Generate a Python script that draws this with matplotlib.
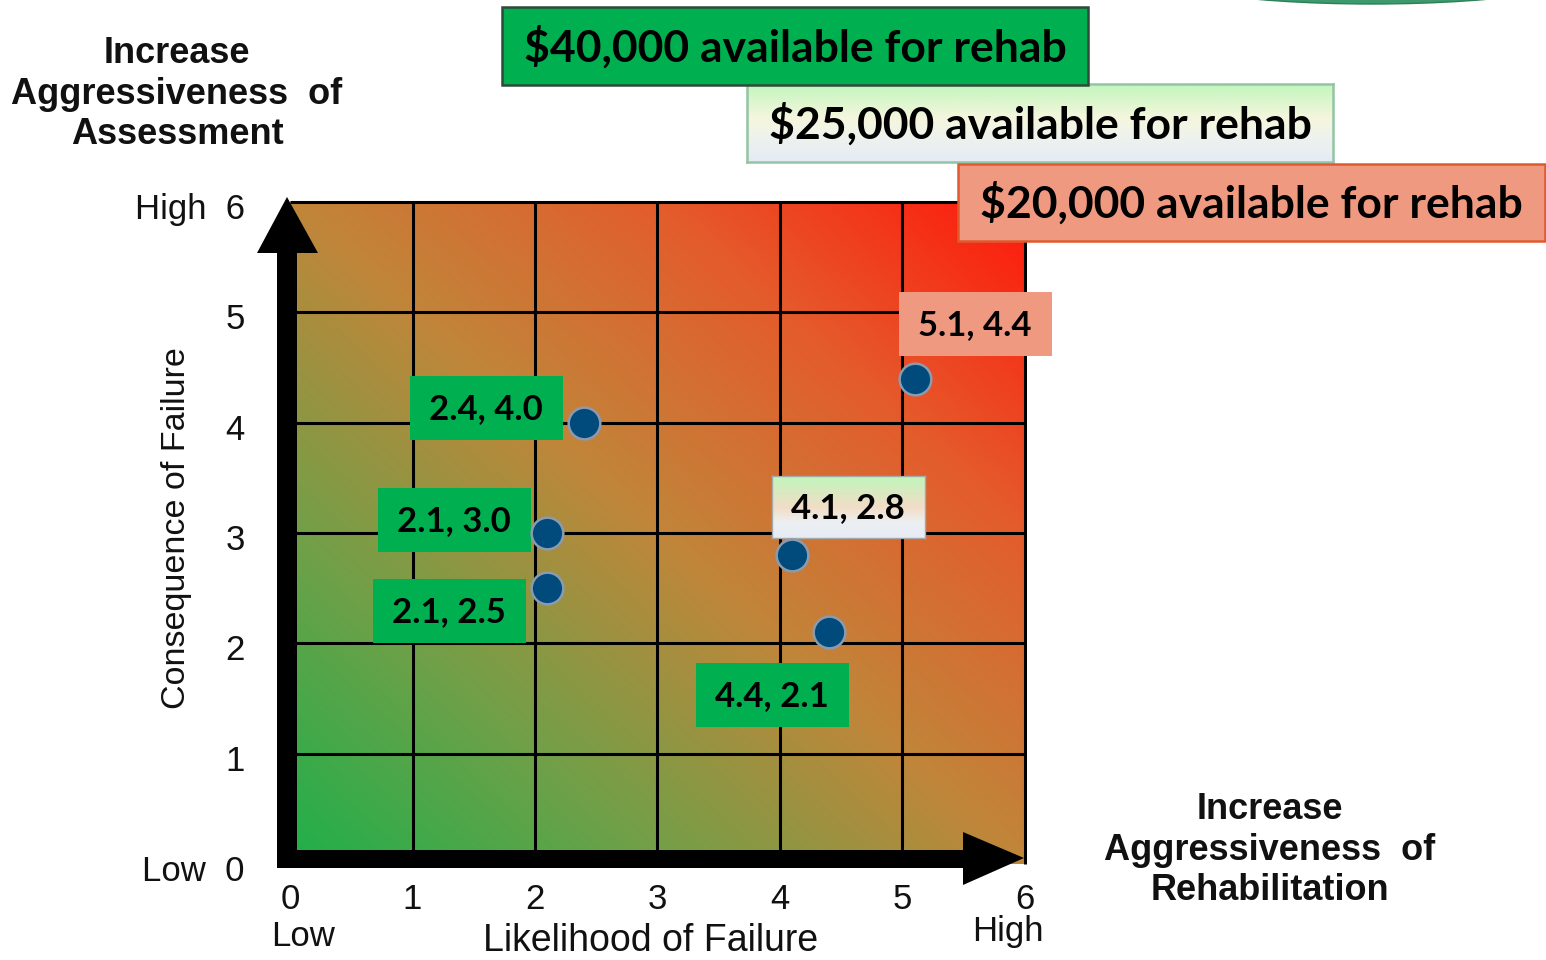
import numpy as np
import matplotlib
matplotlib.use("Agg")
import matplotlib.pyplot as plt
import matplotlib.transforms as mtransforms
from matplotlib.patches import Rectangle, Polygon, Ellipse

# Asset scores: likelihood of failure (x) and consequence of failure (y)
likelihood = [2.4, 2.1, 2.1, 5.1, 4.1, 4.4]
consequence = [4.0, 3.0, 2.5, 4.4, 2.8, 2.1]
# Budget tier under which each asset gets rehabilitated
tier = ["40k", "40k", "40k", "20k", "25k", "40k"]

budget_tiers = ["40k", "25k", "20k"]
budget_labels = ["$40,000 available for rehab",
                 "$25,000 available for rehab",
                 "$20,000 available for rehab"]

tick_values = [0, 1, 2, 3, 4, 5, 6]
x_tick_labels = ["0", "1", "2", "3", "4", "5", "6"]
y_tick_labels = ["Low  0", "1", "2", "3", "4", "5", "High  6"]

x_title = "Likelihood of Failure"
y_title = "Consequence of Failure"
assess_title = "Increase\nAggressiveness  of\nAssessment"
rehab_title = "Increase\nAggressiveness  of\nRehabilitation"

# ---------------------------------------------------------------- layout
W, H = 1546, 960
fig = plt.figure(figsize=(W / 100, H / 100), dpi=100)

SANS = "Liberation Sans"
BOX_FONT = "Lato"

GREEN = "#00B050"
SALMON = "#EF9A80"
tier_face = {"40k": GREEN, "20k": SALMON}


def fig_rect(x0, y0, x1, y1):
    """Pixel box (top-down y) -> figure fraction rect."""
    return [x0 / W, 1 - y1 / H, (x1 - x0) / W, (y1 - y0) / H]


def vgrad(stops, n=200):
    pos = np.array([s[0] for s in stops])
    cols = np.array([matplotlib.colors.to_rgb(s[1]) for s in stops])
    t = np.linspace(0, 1, n)
    arr = np.stack([np.interp(t, pos, cols[:, k]) for k in range(3)], axis=-1)
    return arr[:, None, :]


# main risk matrix axes
XMIN, XMAX, YMIN, YMAX = -0.2, 6.02, -0.15, 6.02
px_x0, px_per_x = 290.0, 122.5
px_y0, px_per_y = 864.0, 110.33
ax = fig.add_axes(fig_rect(px_x0 + XMIN * px_per_x, px_y0 - YMAX * px_per_y,
                           px_x0 + XMAX * px_per_x, px_y0 - YMIN * px_per_y))
ax.set_xlim(XMIN, XMAX)
ax.set_ylim(YMIN, YMAX)
ax.set_zorder(1)

# diagonal green -> brown -> orange -> red background
gx = np.linspace(0, 6, 400)
gy = np.linspace(0, 6, 400)
GX, GY = np.meshgrid(gx, gy)
t = (GX + GY) / 12.0
stops_t = [0.0, 0.25, 0.5, 0.75, 1.0]
stops_c = np.array([(30, 176, 75), (112, 160, 72), (192, 134, 58),
                    (228, 92, 44), (255, 24, 12)]) / 255.0
img = np.stack([np.interp(t, stops_t, stops_c[:, k]) for k in range(3)], axis=-1)
ax.imshow(img, origin="lower", extent=(0, 6, 0, 6), aspect="auto",
          interpolation="bilinear", zorder=0)

ax.vlines(tick_values[1:], 0, 6, colors="black", lw=2.2, zorder=1)
ax.hlines(tick_values[1:], 0, 6, colors="black", lw=2.2, zorder=1)

ax.set_xticks(tick_values)
ax.set_xticklabels(x_tick_labels)
ax.set_yticks(tick_values)
ax.set_yticklabels(y_tick_labels)
ax.tick_params(length=0, labelsize=25, colors="#111111")
ax.tick_params(axis="y", pad=15)
ax.tick_params(axis="x", pad=2)
nudge_down = mtransforms.ScaledTranslation(0, -4 / 100, fig.dpi_scale_trans)
for lab in ax.get_xticklabels() + ax.get_yticklabels():
    lab.set_fontfamily(SANS)
for lab in ax.get_yticklabels():
    lab.set_transform(lab.get_transform() + nudge_down)
for s in ax.spines.values():
    s.set_visible(False)

# pixel-space overlay for arrows, titles and callouts
deco = fig.add_axes([0, 0, 1, 1])
deco.set_xlim(0, W)
deco.set_ylim(H, 0)
deco.axis("off")
deco.patch.set_visible(False)
deco.set_zorder(3)

# axis arrows
deco.add_patch(Polygon([(277, 868), (963, 868), (963, 885), (1024, 858),
                        (963, 832), (963, 850), (277, 850)],
                       closed=True, facecolor="black", edgecolor="none"))
deco.add_patch(Polygon([(277, 868), (277, 253), (257, 253), (287, 197),
                        (318, 253), (297, 253), (297, 868)],
                       closed=True, facecolor="black", edgecolor="none"))

# axis titles
deco.text(651, 941, x_title, ha="center", va="center", fontsize=27,
          family=SANS, color="#111111")
deco.text(177, 528, y_title, ha="center", va="center", fontsize=24.5,
          family=SANS, color="#111111", rotation=90)
deco.text(303, 937, "Low", ha="center", va="center", fontsize=25,
          family=SANS, color="#111111")
deco.text(1008, 932, "High", ha="center", va="center", fontsize=25,
          family=SANS, color="#111111")

deco.text(177, 94, assess_title, ha="center", va="center", fontsize=26,
          family=SANS, weight="bold", linespacing=1.2, color="#111111")
deco.text(1270, 850, rehab_title, ha="center", va="center", fontsize=26,
          family=SANS, weight="bold", linespacing=1.2, color="#111111")

# decorative green arc clipped at the top edge
deco.add_patch(Ellipse((1372, -36), 490, 80, facecolor="#3C9A6C",
                       edgecolor="#2F7F57", lw=1))

# budget banners
banner_px = {"40k": (502, 7, 1088, 85),
             "25k": (747, 84, 1333, 162),
             "20k": (958, 164, 1545, 241)}
banner_edge = {"40k": "#2E4A3A", "25k": "#93C4A4", "20k": "#E05A30"}
pale_stops = [(0.0, "#C0F6BC"), (0.45, "#F6F6DE"), (0.7, "#EEF2EE"),
              (1.0, "#E4EBF5")]
peach_stops = [(0.0, "#C0F6BC"), (0.5, "#F2DDC6"), (0.75, "#ECEFF2"),
               (1.0, "#E6ECF6")]

for key, text in zip(budget_tiers, budget_labels):
    x0, y0, x1, y1 = banner_px[key]
    if key == "25k":
        bax = fig.add_axes(fig_rect(x0, y0, x1, y1))
        bax.imshow(vgrad(pale_stops), aspect="auto", extent=(0, 1, 0, 1))
        bax.set_xticks([])
        bax.set_yticks([])
        for s in bax.spines.values():
            s.set_color(banner_edge[key])
            s.set_linewidth(1.8)
        bax.set_zorder(2)
    else:
        deco.add_patch(Rectangle((x0, y0), x1 - x0, y1 - y0,
                                 facecolor=tier_face[key],
                                 edgecolor=banner_edge[key], lw=1.8,
                                 zorder=4 if key == "40k" else 2))
    deco.text((x0 + x1) / 2, (y0 + y1) / 2 + 1, text, ha="center",
              va="center", fontsize=32, family=BOX_FONT, weight="bold",
              color="black", zorder=5)

# value callouts next to each asset (box centres in pixels)
callout_centres = [(486, 408), (454, 520), (449, 611),
                   (975, 324), (848, 507), (772, 695)]
BW, BH = 153, 64
for xv, yv, tr, (cx, cy) in zip(likelihood, consequence, tier, callout_centres):
    label = f"{xv:.1f}, {yv:.1f}"
    if tr == "25k":
        cax = fig.add_axes(fig_rect(cx - BW / 2, cy - 31, cx + BW / 2, cy + 31))
        cax.imshow(vgrad(peach_stops), aspect="auto", extent=(0, 1, 0, 1))
        cax.set_xticks([])
        cax.set_yticks([])
        for s in cax.spines.values():
            s.set_color("#A8A8A8")
            s.set_linewidth(1.0)
        cax.set_zorder(2)
    else:
        deco.add_patch(Rectangle((cx - BW / 2, cy - BH / 2), BW, BH,
                                 facecolor=tier_face[tr], edgecolor="none",
                                 zorder=2))
    deco.text(cx, cy + 1, label, ha="center", va="center", fontsize=25,
              family=BOX_FONT, weight="bold", color="black", zorder=5)

# asset markers on top of everything
pts = fig.add_axes(ax.get_position().bounds)
pts.set_xlim(XMIN, XMAX)
pts.set_ylim(YMIN, YMAX)
pts.axis("off")
pts.patch.set_visible(False)
pts.set_zorder(6)
pts.scatter(likelihood, consequence, s=520, facecolor="#004A7C",
            edgecolor="#8A9BB0", linewidth=1.8, zorder=3)

fig.savefig("out.png", dpi=100)
